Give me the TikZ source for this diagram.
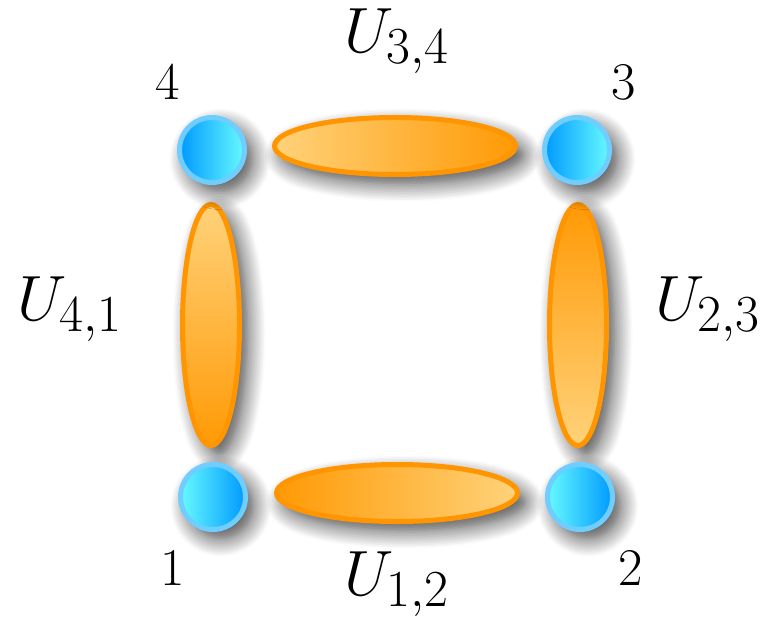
\documentclass[tikz,border=0pt]{standalone}
\usepackage{fix-cm}
\usetikzlibrary{shapes.geometric,shadows.blur}
\DeclareMathSizes{32}{32}{26}{18}
\definecolor{siteRing}{HTML}{6FCDFF}
\definecolor{siteDark}{HTML}{0099FF}
\definecolor{siteLight}{HTML}{66FAFF}
\definecolor{bondEdge}{HTML}{FF9500}
\definecolor{bondDark}{HTML}{FF9A05}
\definecolor{bondLight}{HTML}{FFD27A}
\begin{document}
\begin{tikzpicture}[x=0.5pt,y=-0.5pt,
  glow/.style={blur shadow={shadow xshift=4pt,shadow yshift=-4.5pt,shadow blur radius=9pt,shadow blur steps=12,shadow opacity=75}},
  site/.style={circle,draw=siteRing,line width=2.5pt,minimum size=32.5pt,inner sep=0pt,glow},
  bond/.style={ellipse,draw=bondEdge,line width=2.5pt,inner sep=0pt,glow},
  hbond/.style={bond,minimum width=120.5pt,minimum height=28.5pt},
  vbond/.style={bond,minimum width=28.5pt,minimum height=120.5pt},
  num/.style={font=\fontsize{26.5}{32}\selectfont,inner sep=0pt},
  lbl/.style={font=\fontsize{32}{38}\selectfont,inner sep=0pt}]
\useasboundingbox (0,0) rectangle (769,619);
% bonds between neighbouring sites
\node[hbond,left color=bondLight,right color=bondDark] (b34) at (395,146) {};
\node[hbond,left color=bondDark,right color=bondLight] (b12) at (397,493) {};
\node[vbond,top color=bondLight,bottom color=bondDark] (b41) at (211,325) {};
\node[vbond,top color=bondDark,bottom color=bondLight] (b23) at (578,325) {};
% sites
\foreach \x/\y/\n/\lc/\rc in {212/150/4/siteDark/siteLight,577/150/3/siteDark/siteLight,
  213/497/1/siteLight/siteDark,580/497/2/siteLight/siteDark}
{
  \node[site,left color=\lc,right color=\rc] (s\n) at (\x,\y) {};
}
% site numbers
\node[num] (n4) at (168,82) {$4$};
\node[num] (n3) at (624,82) {$3$};
\node[num] (n1) at (173,568) {$1$};
\node[num] (n2) at (631,568) {$2$};
% bond labels
\node[lbl] (u34) at (397,41) {$U_{3,4}$};
\node[lbl] (u41) at (70,309) {$U_{4,1}$};
\node[lbl] (u23) at (708,309) {$U_{2,3}$};
\node[lbl] (u12) at (397,584) {$U_{1,2}$};
\end{tikzpicture}
\end{document}
